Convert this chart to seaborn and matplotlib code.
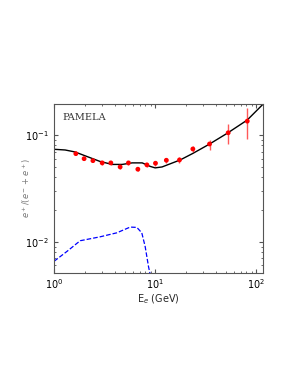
import numpy as np
import pandas as pd
import seaborn as sns
import matplotlib.pyplot as plt

# PAMELA positron fraction data
energy = [1.64, 1.98, 2.42, 2.99, 3.64, 4.50, 5.44, 6.74, 8.28, 10.07, 12.9, 17.4, 23.6, 34.5, 52.8, 81.5]
fraction = [0.0669, 0.0600, 0.0575, 0.0548, 0.0548, 0.0502, 0.0548, 0.0478, 0.0525, 0.0544, 0.0580, 0.0584, 0.0740, 0.0824, 0.105, 0.135]
err_low = [0.002, 0.002, 0.002, 0.002, 0.002, 0.002, 0.002, 0.002, 0.002, 0.003, 0.003, 0.004, 0.005, 0.010, 0.023, 0.043]
err_high = [0.002, 0.002, 0.002, 0.002, 0.002, 0.002, 0.002, 0.002, 0.002, 0.003, 0.003, 0.004, 0.005, 0.008, 0.021, 0.046]

# total model curve
model_e = [1.0, 1.285, 1.61, 2.17, 2.85, 3.75, 4.71, 5.92, 7.44, 8.93, 10.0, 11.7, 17.7, 23.7, 34.2, 51.5, 81.3, 117]
model_f = [0.0735, 0.0724, 0.0694, 0.0623, 0.0565, 0.0530, 0.0530, 0.0548, 0.0548, 0.0508, 0.0492, 0.0502, 0.0584, 0.0674, 0.0819, 0.1037, 0.138, 0.195]

# extra component (dashed)
comp_e = [1.0, 1.34, 1.81, 2.85, 4.17, 5.66, 6.59, 7.37, 7.96, 8.6, 8.9]
comp_f = [0.00655, 0.0081, 0.0102, 0.0111, 0.0121, 0.0137, 0.0136, 0.0121, 0.0090, 0.0058, 0.0050]

sns.set_style("ticks")

fig = plt.figure(figsize=(2.99, 3.87), dpi=100)
ax = fig.add_axes([0.181, 0.295, 0.699, 0.436])

sns.lineplot(x=model_e, y=model_f, ax=ax, color="black", lw=1.0, sort=False)
sns.lineplot(x=comp_e, y=comp_f, ax=ax, color="blue", lw=0.9, sort=False, linestyle="--")
ax.errorbar(energy, fraction, yerr=[err_low, err_high], fmt="none", ecolor="red", elinewidth=1.0, alpha=0.65)
sns.scatterplot(x=energy, y=fraction, ax=ax, color="red", s=12, edgecolor="none", zorder=5)

ax.set_xscale("log")
ax.set_yscale("log")
ax.set_xlim(1, 117)
ax.set_ylim(0.0051, 0.195)

ax.tick_params(which="both", direction="in", top=True, right=True, labelsize=7, colors="#555555", labelcolor="black")
ax.tick_params(which="major", length=3)
ax.tick_params(which="minor", length=1.5)
for s in ax.spines.values():
    s.set_color("#555555")
    s.set_linewidth(0.8)

ax.text(0.04, 0.95, "PAMELA", transform=ax.transAxes, fontsize=7, family="DejaVu Serif", va="top", color="#333333")
ax.set_xlabel("E$_e$ (GeV)", fontsize=7, labelpad=1)
ax.set_ylabel("$e^+/(e^- + e^+)$", fontsize=6, color="#777777")
ax.yaxis.set_label_coords(-0.10, 0.5)

fig.savefig("out.png", dpi=100)
